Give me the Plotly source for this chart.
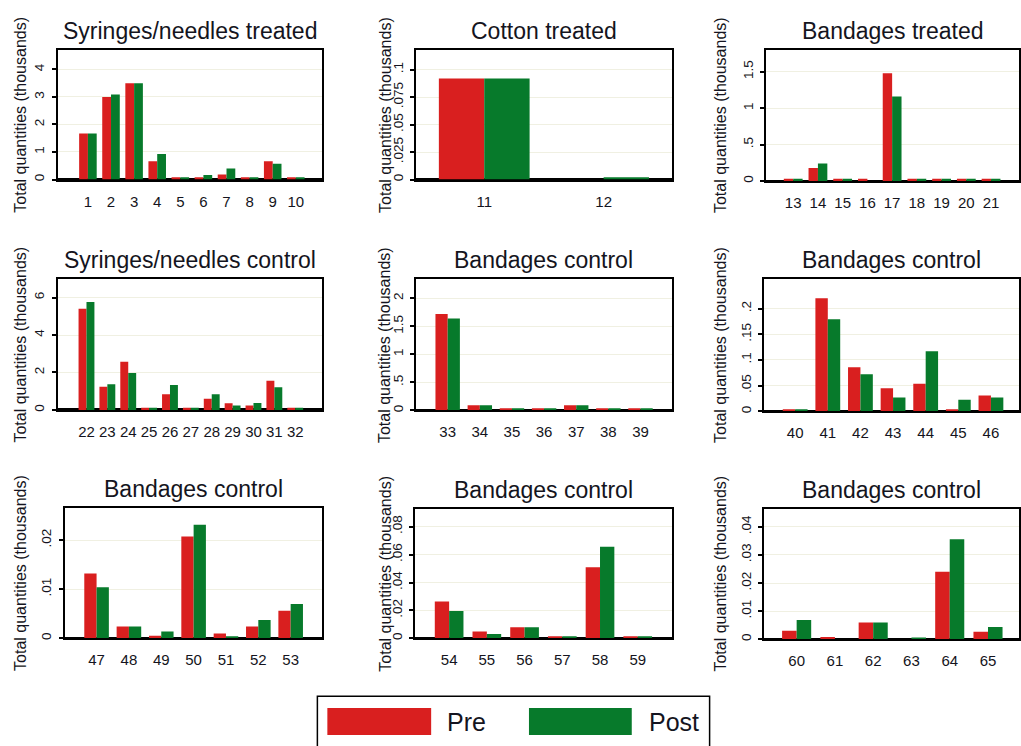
import plotly.graph_objects as go

# ---------------- data ----------------
titles = ["Syringes/needles treated", "Cotton treated", "Bandages treated",
          "Syringes/needles control", "Bandages control", "Bandages control",
          "Bandages control", "Bandages control", "Bandages control"]

cats1 = ["1", "2", "3", "4", "5", "6", "7", "8", "9", "10"]
pre1 = [1.67, 3.00, 3.50, 0.66, 0.08, 0.08, 0.18, 0.08, 0.66, 0.08]
post1 = [1.67, 3.09, 3.50, 0.93, 0.08, 0.16, 0.40, 0.08, 0.57, 0.08]

cats2 = ["11", "12"]
pre2 = [0.092, 0.0]
post2 = [0.092, 0.002]

cats3 = ["13", "14", "15", "16", "17", "18", "19", "20", "21"]
pre3 = [0.03, 0.18, 0.03, 0.03, 1.48, 0.03, 0.03, 0.03, 0.03]
post3 = [0.03, 0.24, 0.03, 0.0, 1.16, 0.03, 0.03, 0.03, 0.03]

cats4 = ["22", "23", "24", "25", "26", "27", "28", "29", "30", "31", "32"]
pre4 = [5.41, 1.24, 2.57, 0.12, 0.83, 0.12, 0.60, 0.36, 0.23, 1.56, 0.12]
post4 = [5.77, 1.37, 1.97, 0.12, 1.33, 0.12, 0.83, 0.23, 0.37, 1.21, 0.12]

cats5 = ["33", "34", "35", "36", "37", "38", "39"]
pre5 = [1.72, 0.09, 0.04, 0.04, 0.09, 0.04, 0.04]
post5 = [1.64, 0.09, 0.04, 0.04, 0.09, 0.04, 0.04]

cats6 = ["40", "41", "42", "43", "44", "45", "46"]
pre6 = [0.004, 0.220, 0.086, 0.045, 0.054, 0.004, 0.031]
post6 = [0.004, 0.179, 0.072, 0.027, 0.117, 0.0226, 0.027]

cats7 = ["47", "48", "49", "50", "51", "52", "53"]
pre7 = [0.0132, 0.0024, 0.0005, 0.0207, 0.0010, 0.0024, 0.0056]
post7 = [0.0104, 0.0024, 0.0014, 0.0231, 0.0004, 0.0037, 0.0070]

cats8 = ["54", "55", "56", "57", "58", "59"]
pre8 = [0.0263, 0.0048, 0.0079, 0.0015, 0.0509, 0.0015]
post8 = [0.0196, 0.0031, 0.0079, 0.0015, 0.0657, 0.0015]

cats9 = ["60", "61", "62", "63", "64", "65"]
pre9 = [0.0030, 0.0008, 0.0060, 0.0, 0.0240, 0.0027]
post9 = [0.0069, 0.0, 0.0060, 0.0006, 0.0356, 0.0044]

yticks1, ylabels1 = [0, 1, 2, 3, 4], ["0", "1", "2", "3", "4"]
yticks2, ylabels2 = [0, 0.025, 0.05, 0.075, 0.1], ["0", ".025", ".05", ".075", ".1"]
yticks3, ylabels3 = [0, 0.5, 1, 1.5], ["0", ".5", "1", "1.5"]
yticks4, ylabels4 = [0, 2, 4, 6], ["0", "2", "4", "6"]
yticks5, ylabels5 = [0, 0.5, 1, 1.5, 2], ["0", ".5", "1", "1.5", "2"]
yticks6, ylabels6 = [0, 0.05, 0.1, 0.15, 0.2], ["0", ".05", ".1", ".15", ".2"]
yticks7, ylabels7 = [0, 0.01, 0.02], ["0", ".01", ".02"]
yticks8, ylabels8 = [0, 0.02, 0.04, 0.06, 0.08], ["0", ".02", ".04", ".06", ".08"]
yticks9, ylabels9 = [0, 0.01, 0.02, 0.03, 0.04], ["0", ".01", ".02", ".03", ".04"]

ytitle = "Total quantities (thousands)"
series_names = ["Pre", "Post"]

# ---------------- layout / style ----------------
W, H = 1021, 746
RED = "#d91f1f"
GREEN = "#077a2b"
FONT = "Liberation Sans, Arial, sans-serif"
TXT = "#141420"
GRID = "#f0f0e2"

panels = [
    (cats1, pre1, post1, yticks1, ylabels1),
    (cats2, pre2, post2, yticks2, ylabels2),
    (cats3, pre3, post3, yticks3, ylabels3),
    (cats4, pre4, post4, yticks4, ylabels4),
    (cats5, pre5, post5, yticks5, ylabels5),
    (cats6, pre6, post6, yticks6, ylabels6),
    (cats7, pre7, post7, yticks7, ylabels7),
    (cats8, pre8, post8, yticks8, ylabels8),
    (cats9, pre9, post9, yticks9, ylabels9),
]

# pixel geometry: x0, x1, ytop, ybottom, x-range (category index units), y max
geom = [
    (58, 323, 50, 180, [-1.30, 10.15], 4.71),
    (417, 673, 50, 180, [-0.57, 1.57], 0.118),
    (768, 1021, 50, 181.5, [-1.08, 9.13], 1.80),
    (58, 323, 280, 411, [-1.37, 11.30], 6.98),
    (417, 673, 280, 411.5, [-0.98, 6.97], 2.34),
    (766, 1021, 280, 412.5, [-0.94, 6.86], 0.257),
    (65, 323, 509, 640, [-0.98, 6.98], 0.0266),
    (416, 673, 510, 640, [-0.90, 5.90], 0.093),
    (766, 1021, 510, 641, [-0.84, 5.81], 0.0465),
]
ytitle_x = [21, 386, 722, 21, 386, 722, 21, 386, 722]
BW = 0.38


def fx(p):
    return p / W


def fy(p):
    return 1 - p / H


fig = go.Figure()
annotations = []
layout = {}

for i, ((cats, pre, post, yt, yl), (x0, x1, yt0, yb0, xr, ymax)) in enumerate(zip(panels, geom)):
    k = "" if i == 0 else str(i + 1)
    idx = list(range(len(cats)))
    fig.add_trace(go.Bar(x=idx, y=pre, width=BW, offset=-BW, marker_color=RED,
                         marker_line_width=0, name=series_names[0], showlegend=False,
                         xaxis="x" + k, yaxis="y" + k))
    fig.add_trace(go.Bar(x=idx, y=post, width=BW, offset=0, marker_color=GREEN,
                         marker_line_width=0, name=series_names[1], showlegend=False,
                         xaxis="x" + k, yaxis="y" + k))
    layout["xaxis" + k] = dict(
        domain=[fx(x0), fx(x1)], range=xr, anchor="y" + k,
        tickvals=idx, ticktext=cats, ticks="", showgrid=False, zeroline=False,
        showline=True, mirror=True, linecolor="black", linewidth=2,
        ticklabelstandoff=7,
        tickfont=dict(family=FONT, size=15, color=TXT), fixedrange=True,
    )
    layout["yaxis" + k] = dict(
        domain=[fy(yb0), fy(yt0)], range=[0, ymax], anchor="x" + k,
        tickvals=yt, ticktext=yl, tickangle=-90, ticks="outside", ticklen=4,
        tickwidth=2, tickcolor="black", showgrid=True, gridcolor=GRID, gridwidth=1,
        zeroline=True, zerolinecolor="black", zerolinewidth=3,
        showline=True, mirror=True, linecolor="black", linewidth=2,
        ticklabelstandoff=2,
        tickfont=dict(family=FONT, size=13.5, color=TXT), fixedrange=True,
    )
    # panel title
    annotations.append(dict(
        text=titles[i], x=fx((x0 + min(x1, 1024)) / 2), y=fy(yt0 - 19),
        xref="paper", yref="paper", xanchor="center", yanchor="middle",
        showarrow=False, font=dict(family=FONT, size=23, color=TXT)))
    # y axis title
    annotations.append(dict(
        text=ytitle, x=fx(ytitle_x[i]), y=fy((yt0 + yb0) / 2),
        xref="paper", yref="paper", xanchor="center", yanchor="middle",
        textangle=-90, showarrow=False, font=dict(family=FONT, size=16, color=TXT)))

# legend (drawn manually, Stata style wide swatches)
shapes = [
    dict(type="rect", xref="paper", yref="paper", x0=fx(318), x1=fx(711), y0=fy(760), y1=fy(698),
         line=dict(color="black", width=1.5), fillcolor="white", layer="below"),
    dict(type="rect", xref="paper", yref="paper", x0=fx(328), x1=fx(432), y0=fy(737), y1=fy(710),
         line=dict(width=0), fillcolor=RED),
    dict(type="rect", xref="paper", yref="paper", x0=fx(530), x1=fx(633), y0=fy(737), y1=fy(710),
         line=dict(width=0), fillcolor=GREEN),
]
annotations.append(dict(text=series_names[0], x=fx(446), y=fy(723.5), xref="paper", yref="paper",
                        xanchor="left", yanchor="middle", showarrow=False,
                        font=dict(family=FONT, size=25, color=TXT)))
annotations.append(dict(text=series_names[1], x=fx(648), y=fy(723.5), xref="paper", yref="paper",
                        xanchor="left", yanchor="middle", showarrow=False,
                        font=dict(family=FONT, size=25, color=TXT)))

fig.update_layout(
    width=W, height=H, margin=dict(l=0, r=0, t=0, b=0),
    paper_bgcolor="white", plot_bgcolor="white",
    barmode="overlay", showlegend=False,
    annotations=annotations, shapes=shapes,
    **layout,
)

fig.write_html("out.html", config={"displayModeBar": False})
